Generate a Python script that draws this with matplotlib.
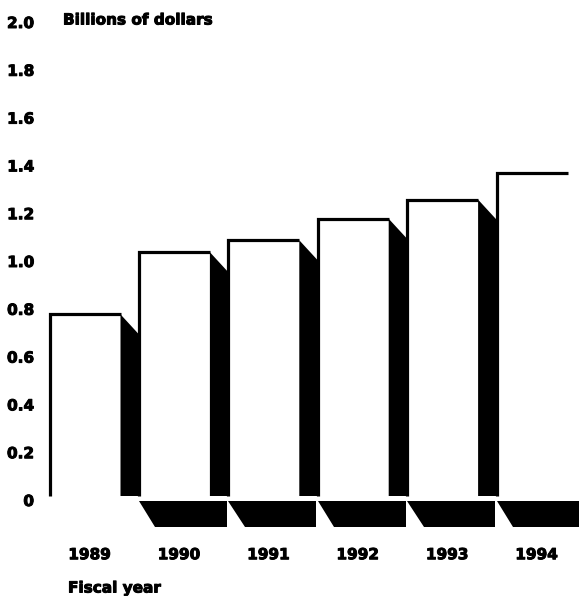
import matplotlib
matplotlib.use('Agg')
import matplotlib.pyplot as plt
import matplotlib.patheffects as pe
from matplotlib.patches import Polygon
from matplotlib.transforms import ScaledTranslation
import numpy as np

# ---- data ----
years = ['1989', '1990', '1991', '1992', '1993', '1994']
values = [0.76, 1.02, 1.07, 1.16, 1.24, 1.35]
yticks = [0, 0.2, 0.4, 0.6, 0.8, 1.0, 1.2, 1.4, 1.6, 1.8, 2.0]
ytick_labels = ['0', '0.2', '0.4', '0.6', '0.8', '1.0', '1.2', '1.4', '1.6', '1.8', '2.0']
y_title = 'Billions of dollars'
x_title = 'Fiscal year'

W, H, DPI = 579, 596, 100
fig = plt.figure(figsize=(W / DPI, H / DPI), dpi=DPI)
fig.patch.set_facecolor('white')

# axes geometry (pixels)
ax_left, ax_right, ax_bottom_px = 34, 579, 540
ax = fig.add_axes([ax_left / W, (H - ax_bottom_px) / H, (ax_right - ax_left) / W, ax_bottom_px / H])

unit_x = 89.4      # pixels per category
unit_y = 239.0     # pixels per 1.0
zero_px = 496      # pixel row of zero
c0_px = 85         # pixel column of first category centre
ax.set_xlim((ax_left - c0_px) / unit_x, (ax_right - c0_px) / unit_x)
ax.set_ylim(-(ax_bottom_px - zero_px) / unit_y, zero_px / unit_y)

x = np.arange(len(years))
w = 71 / unit_x                  # bar width
sdy = 20 / unit_y                # shadow drop
floor_top = -5 / unit_y
floor_bot = -31.3 / unit_y
floor_skew = 16.5 / unit_x
gap = 1.5 / unit_x

ax.bar(x, values, width=w, color='white', edgecolor='none', zorder=1)

for i, (xi, v) in enumerate(zip(x, values)):
    left, right = xi - w / 2, xi + w / 2
    nxt = xi + 1 - w / 2
    ax.plot([left, left, right], [0, v, v], color='black', lw=2.3,
            solid_joinstyle='miter', solid_capstyle='butt', zorder=4)
    if i < len(x) - 1:
        ax.add_patch(Polygon([(right, v), (nxt, v - sdy), (nxt, 0), (right, 0)],
                             closed=True, fc='black', ec='none', zorder=3))
    if i > 0:
        ax.add_patch(Polygon([(left, floor_top), (nxt - gap, floor_top),
                              (nxt - gap, floor_bot), (left + floor_skew, floor_bot)],
                             closed=True, fc='black', ec='none', zorder=3))

heavy = [pe.withStroke(linewidth=0.7, foreground='black')]
font = dict(family='DejaVu Sans', weight='bold', size=11)

ax.set_yticks(yticks)
ax.set_yticklabels(ytick_labels, **font)
ax.set_xticks(x)
ax.set_xticklabels(years, **font)
ax.tick_params(axis='both', length=0)
ax.tick_params(axis='y', pad=0)
ax.tick_params(axis='x', pad=5.2)
for lab in ax.get_yticklabels():
    lab.set_transform(lab.get_transform() + ScaledTranslation(0, -4 / DPI, fig.dpi_scale_trans))
    lab.set_path_effects(heavy)
for lab in ax.get_xticklabels():
    lab.set_transform(lab.get_transform() + ScaledTranslation(4.5 / DPI, 0, fig.dpi_scale_trans))
    lab.set_path_effects(heavy)

for s in ax.spines.values():
    s.set_visible(False)
ax.set_facecolor('none')

fig.text(63 / W, 1 - 20 / H, y_title, ha='left', va='center', path_effects=heavy, **font)
fig.text(68 / W, 1 - 588 / H, x_title, ha='left', va='center', path_effects=heavy, **font)

fig.savefig('out.png', dpi=DPI, facecolor='white')
